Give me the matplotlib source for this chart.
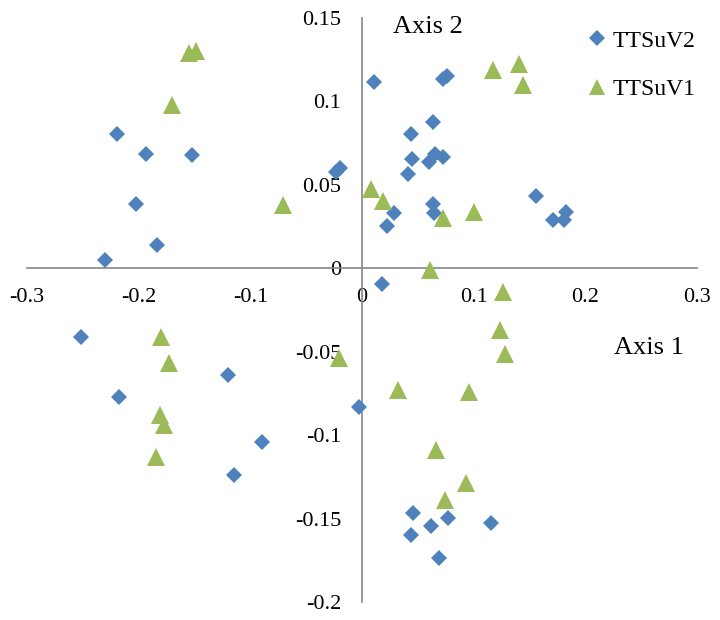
import matplotlib
matplotlib.use("Agg")
import matplotlib.pyplot as plt

plt.rcParams['font.family'] = ['Liberation Serif', 'DejaVu Serif']

# TTSuV2 (blue diamonds)
v2_x = [-0.2195, -0.1931, -0.1522, -0.0230, -0.0200, -0.2027, -0.1832, -0.2305,
        0.0108, 0.0729, 0.0765, 0.0634, 0.0437, 0.0451, 0.0604, 0.0655, 0.0729,
        0.0415, 0.0640, 0.0646, 0.0290, 0.0227, 0.1561, 0.1707, 0.1812, 0.1827,
        0.0177,
        -0.2514, -0.1199, -0.2177, -0.0900, -0.1145, -0.0030,
        0.0455, 0.0774, 0.0616, 0.0437, 0.1154, 0.0693]
v2_y = [0.0807, 0.0687, 0.0681, 0.0580, 0.0600, 0.0387, 0.0138, 0.0048,
        0.1116, 0.1136, 0.1150, 0.0876, 0.0806, 0.0657, 0.0637, 0.0683, 0.0667,
        0.0563, 0.0387, 0.0331, 0.0333, 0.0251, 0.0431, 0.0287, 0.0287, 0.0337,
        -0.0096,
        -0.0411, -0.0641, -0.0771, -0.1040, -0.1236, -0.0834,
        -0.1465, -0.1499, -0.1545, -0.1599, -0.1529, -0.1735]

# TTSuV1 (green triangles)
v1_x = [-0.1552, -0.1489, -0.1701, -0.0706,
        0.1172, 0.1408, 0.1438, 0.0078, 0.0186, 0.0729, 0.1004, 0.0610, 0.1267,
        -0.1796, -0.1731, -0.1812, -0.1773, -0.1848, -0.0204,
        0.1238, 0.1283, 0.0326, 0.0960, 0.0664, 0.0927, 0.0747]
v1_y = [0.1289, 0.1305, 0.0976, 0.0377,
        0.1186, 0.1222, 0.1096, 0.0477, 0.0403, 0.0304, 0.0337, -0.0012, -0.0140,
        -0.0411, -0.0567, -0.0880, -0.0940, -0.1130, -0.0535,
        -0.0371, -0.0511, -0.0727, -0.0741, -0.1090, -0.1289, -0.1389]

x_ticks = [-0.3, -0.2, -0.1, 0, 0.1, 0.2, 0.3]
x_labels = ['-0.3', '-0.2', '-0.1', '0', '0.1', '0.2', '0.3']
y_ticks = [-0.2, -0.15, -0.1, -0.05, 0, 0.05, 0.1, 0.15]
y_labels = ['-0.2', '-0.15', '-0.1', '-0.05', '0', '0.05', '0.1', '0.15']

blue = '#4F81BD'
green = '#9BBB59'
axis_gray = '#868686'

fig = plt.figure(figsize=(7.2, 6.2), dpi=100)
ax = fig.add_axes([27/720, 1 - 602/620, (697 - 27)/720, (602 - 18)/620])

ax.plot(v2_x, v2_y, linestyle='none', marker='D', markersize=8.6,
        markeredgewidth=0, color=blue, label='TTSuV2', zorder=3)
ax.plot(v1_x, v1_y, linestyle='none', marker='^', markersize=12.8,
        markeredgewidth=0, color=green, label='TTSuV1', zorder=3)

ax.set_xlim(-0.3, 0.3)
ax.set_ylim(-0.2, 0.15)

for s in ['top', 'right']:
    ax.spines[s].set_visible(False)
ax.spines['left'].set_position(('data', 0))
ax.spines['bottom'].set_position(('data', 0))
for s in ['left', 'bottom']:
    ax.spines[s].set_color(axis_gray)
    ax.spines[s].set_linewidth(1.2)

ax.set_xticks(x_ticks)
ax.set_xticklabels(x_labels)
ax.set_yticks(y_ticks)
ax.set_yticklabels(y_labels)
ax.tick_params(axis='x', length=0, pad=14, labelsize=16)
ax.tick_params(axis='y', length=0, pad=15, labelsize=16)

fig.text(393/720, 1 - 27/620, 'Axis 2', fontsize=19, ha='left', va='center')
fig.text(614/720, 1 - 348/620, 'Axis 1', fontsize=19, ha='left', va='center')

ax.legend(loc='upper left', bbox_to_anchor=(588/720, 1 - 30/620),
          bbox_transform=fig.transFigure, frameon=False, fontsize=17,
          numpoints=1, handlelength=0.8, handletextpad=0.25,
          labelspacing=1.15, borderpad=0, borderaxespad=0, markerscale=0.9)

fig.canvas.draw()
fig.savefig('out.png', dpi=100)
